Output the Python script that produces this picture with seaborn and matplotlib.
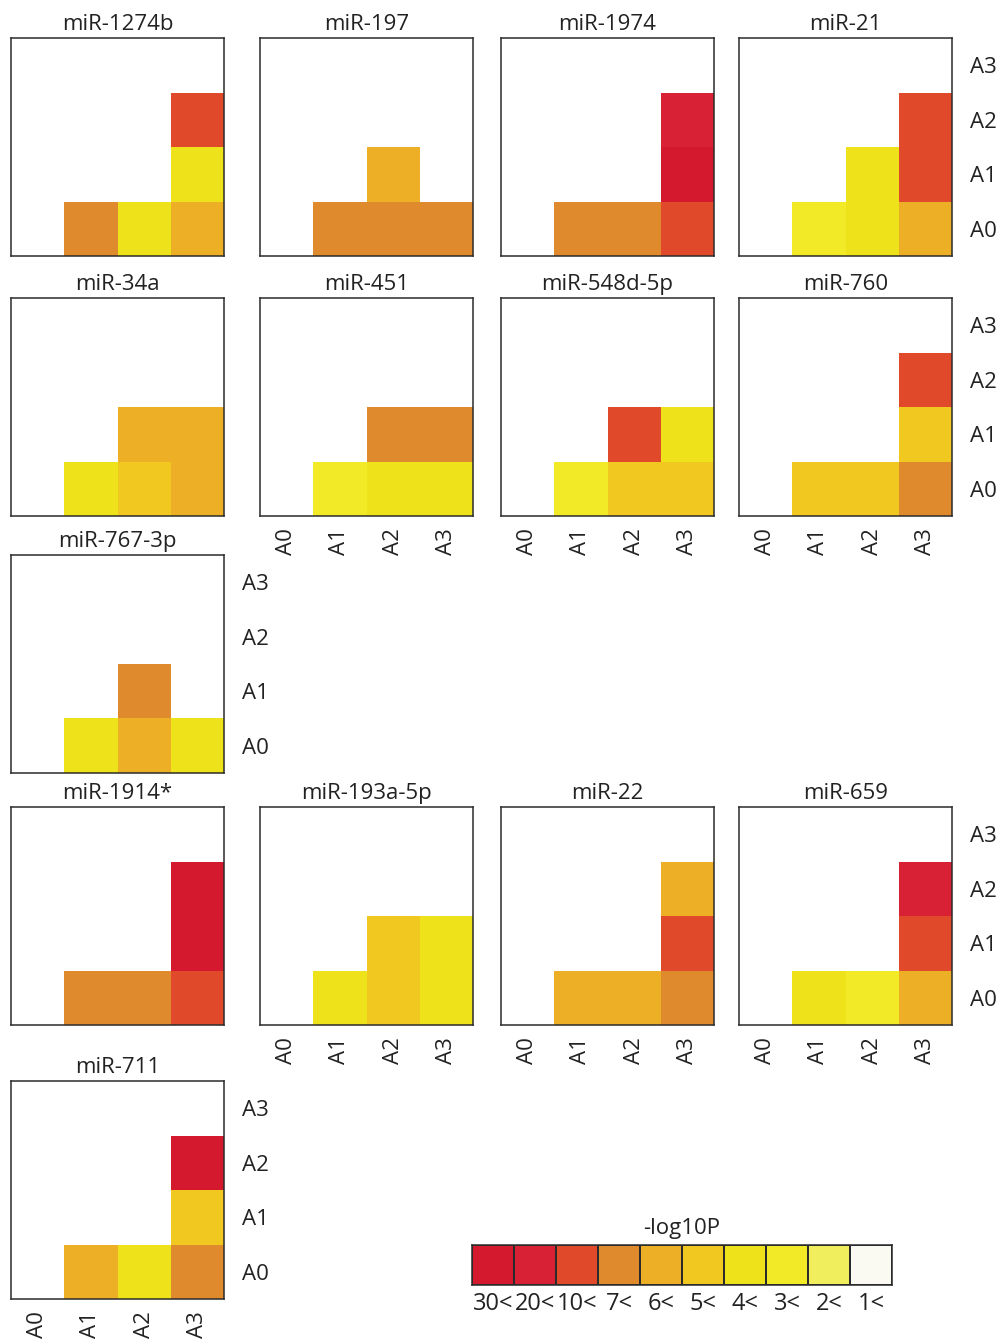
import numpy as np
import pandas as pd

import matplotlib
matplotlib.use('Agg')
import matplotlib.pyplot as plt
import seaborn as sns
from matplotlib.colors import ListedColormap


# ------------------- DATA -------------------

mirnas = ["miR-1274b", "miR-197", "miR-1974", "miR-21",
          "miR-34a", "miR-451", "miR-548d-5p", "miR-760",
          "miR-767-3p",
          "miR-1914*", "miR-193a-5p", "miR-22", "miR-659",
          "miR-711"]

stages = ["A0", "A1", "A2", "A3"]

# -log10P classes, strongest first
levels = ["30<", "20<", "10<", "7<", "6<", "5<", "4<", "3<", "2<", "1<"]
level_colors = ["#D4192F", "#D92135", "#E04A2B", "#E08A2E", "#EDAF26",
                "#F0C81F", "#EEE21A", "#F2EA26", "#F1EE5E", "#FAFAF2"]

# one list per comparison (column stage vs row stage), None = blank cell
a1_vs_a0 = ["7<", "7<", "7<", "3<", "4<", "3<", "3<", "5<", "4<",
            "7<", "4<", "6<", "4<", "6<"]
a2_vs_a0 = ["4<", "7<", "7<", "4<", "5<", "4<", "5<", "5<", "6<",
            "7<", "5<", "6<", "3<", "4<"]
a3_vs_a0 = ["6<", "7<", "10<", "6<", "6<", "4<", "5<", "7<", "4<",
            "10<", "4<", "7<", "6<", "7<"]
a2_vs_a1 = [None, "6<", None, "4<", "6<", "7<", "10<", None, "7<",
            None, "5<", None, None, None]
a3_vs_a1 = ["4<", None, "30<", "10<", "6<", "7<", "4<", "5<", None,
            "30<", "4<", "10<", "10<", "5<"]
a3_vs_a2 = ["10<", None, "20<", "10<", None, None, None, "10<", None,
            "30<", None, "6<", "20<", "30<"]


# ------------------- LAYOUT -------------------

W, H = 1000, 1339
PANEL_W, PANEL_H = 213, 218
col_left = [11, 260, 501, 739]
row_top = [38, 298, 555, 807, 1081]

# (row, col, show x labels, show y labels)
panel_pos = [
    (0, 0, False, False), (0, 1, False, False), (0, 2, False, False), (0, 3, False, True),
    (1, 0, False, False), (1, 1, True, False), (1, 2, True, False), (1, 3, True, True),
    (2, 0, False, True),
    (3, 0, False, False), (3, 1, True, False), (3, 2, True, False), (3, 3, True, True),
    (4, 0, True, True),
]


def build_table():
    comps = [("A1", "A0", a1_vs_a0), ("A2", "A0", a2_vs_a0),
             ("A3", "A0", a3_vs_a0), ("A2", "A1", a2_vs_a1),
             ("A3", "A1", a3_vs_a1), ("A3", "A2", a3_vs_a2)]
    rows = []
    for xs, ys, vals in comps:
        for mir, v in zip(mirnas, vals):
            code = np.nan if v is None else levels.index(v)
            rows.append({"mirna": mir, "x": xs, "y": ys, "code": code})
    return pd.DataFrame(rows)


def add_ax(fig, left, top, w, h):
    return fig.add_axes([left / W, 1 - (top + h) / H, w / W, h / H])


def frame(ax):
    for s in ax.spines.values():
        s.set_visible(True)
        s.set_color("#2b2b2b")
        s.set_linewidth(1.1)


def main():
    sns.set_theme(style="white")
    plt.rcParams['font.family'] = ['Open Sans', 'DejaVu Sans']

    df = build_table()
    cmap = ListedColormap(level_colors)

    fig = plt.figure(figsize=(W / 100, H / 100), dpi=100)
    fig.patch.set_facecolor("white")

    for mir, (r, c, show_x, show_y) in zip(mirnas, panel_pos):
        sub = df[df["mirna"] == mir]
        mat = sub.pivot(index="y", columns="x", values="code")
        mat = mat.reindex(index=stages[::-1], columns=stages)

        ax = add_ax(fig, col_left[c], row_top[r], PANEL_W, PANEL_H)
        sns.heatmap(mat, ax=ax, cmap=cmap, vmin=-0.5, vmax=len(levels) - 0.5,
                    cbar=False, xticklabels=stages, yticklabels=stages[::-1])
        frame(ax)
        ax.set_xlabel("")
        ax.set_ylabel("")
        ax.set_title(mir, fontsize=16, pad=6, color="#222222")

        if show_x:
            ax.tick_params(axis="x", rotation=90, length=0, labelsize=16,
                           pad=9, colors="#222222")
        else:
            ax.set_xticks([])
        if show_y:
            ax.yaxis.tick_right()
            ax.tick_params(axis="y", rotation=0, length=0, labelsize=16,
                           pad=13, colors="#222222")
        else:
            ax.set_yticks([])

    # legend strip
    lax = add_ax(fig, 472, 1245, 420, 40)
    strip = pd.DataFrame([list(range(len(levels)))], columns=levels)
    sns.heatmap(strip, ax=lax, cmap=cmap, vmin=-0.5, vmax=len(levels) - 0.5,
                cbar=False, linewidths=1.2, linecolor="#2b2b2b",
                xticklabels=levels, yticklabels=False)
    frame(lax)
    lax.set_xlabel("")
    lax.set_ylabel("")
    lax.tick_params(axis="x", rotation=0, length=0, labelsize=17, pad=5,
                    colors="#222222")
    lax.set_title("-log10P", fontsize=16, pad=8, color="#222222")

    fig.savefig("out.png", dpi=100)
    plt.close(fig)


if __name__ == "__main__":
    main()
